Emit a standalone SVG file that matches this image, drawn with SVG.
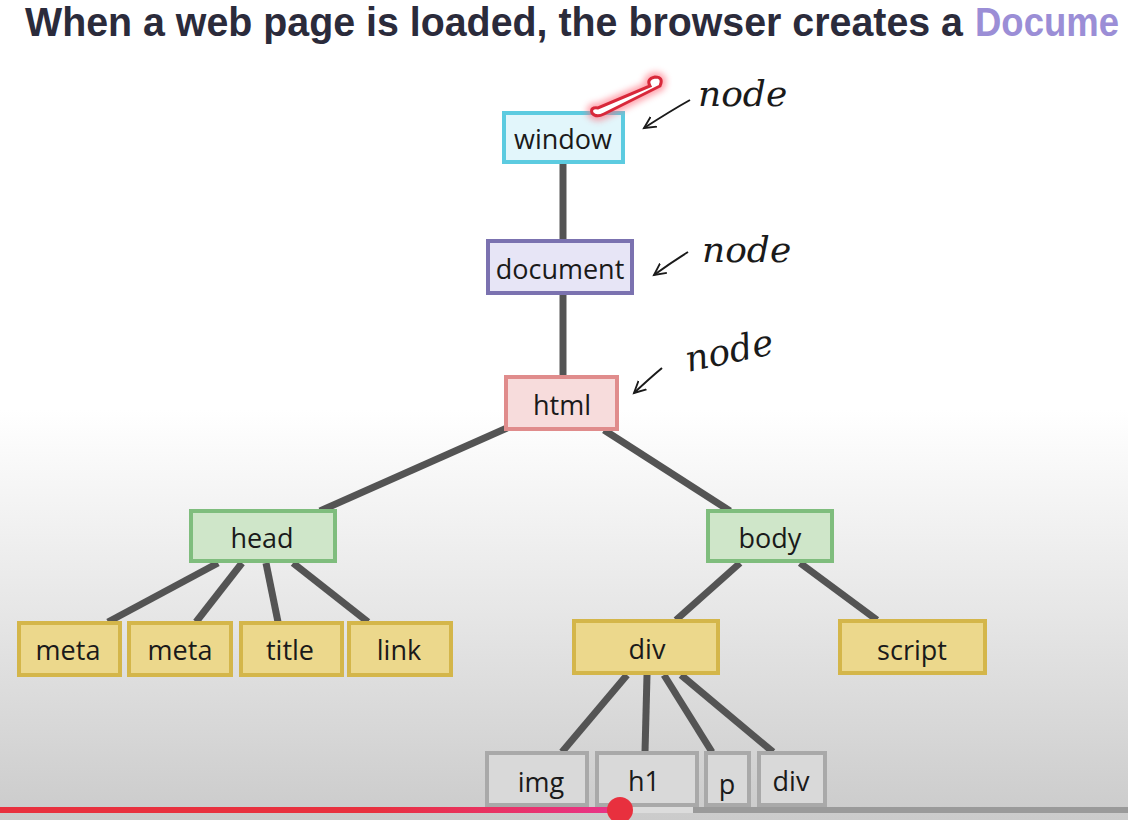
<svg xmlns="http://www.w3.org/2000/svg" width="1128" height="820" viewBox="0 0 1128 820">
<defs>
<linearGradient id="bg" x1="0" y1="0" x2="0" y2="1">
<stop offset="0" stop-color="#ffffff"/>
<stop offset="0.5" stop-color="#ffffff"/>
<stop offset="0.75" stop-color="#e6e6e6"/>
<stop offset="1" stop-color="#cbcbcb"/>
</linearGradient>
<linearGradient id="prog" x1="0" y1="0" x2="1" y2="0">
<stop offset="0" stop-color="#e8303e"/>
<stop offset="0.6" stop-color="#e8303e"/>
<stop offset="1" stop-color="#e8348a"/>
</linearGradient>
<filter id="glow" x="-20%" y="-50%" width="140%" height="200%">
<feGaussianBlur stdDeviation="3"/>
</filter>
<marker id="ah" viewBox="0 0 12 12" refX="10" refY="6" markerWidth="14" markerHeight="14" markerUnits="userSpaceOnUse" orient="auto">
<path d="M0 1 L10 6 L0 11" fill="none" stroke="#1a1a1a" stroke-width="1.6"/>
</marker>
</defs>
<style>
.box rect{stroke-width:4}
.lbl{font-family:"Open Sans","Liberation Sans",sans-serif;font-size:27px;fill:#1a1a1a;text-anchor:middle;dominant-baseline:central}
.cyan rect{fill:#e2f6fb;stroke:#5ccbe0}
.purple rect{fill:#e7e5f6;stroke:#7b72b0}
.pink rect{fill:#f7dcdc;stroke:#e08c8c}
.green rect{fill:#cfe6c9;stroke:#7fbd7d}
.yellow rect{fill:#ecd88c;stroke:#d4b64a}
.grey rect{fill:#d9d9d9;stroke:#a9a9a9}
#connectors line{stroke:#545454;stroke-width:7;stroke-linecap:butt}
.hand{font-family:"DejaVu Serif","Liberation Serif",serif;font-style:italic;font-size:36px;fill:#1a1a1a}
.arr{fill:none;stroke:#1a1a1a;stroke-width:2;marker-end:url(#ah)}
.ttl{font-family:"Liberation Sans",Arial,sans-serif;font-weight:bold;font-size:40px}
</style>
<rect x="0" y="0" width="1128" height="820" fill="url(#bg)"/>
<g id="title">
<text class="ttl" x="25" y="36" textLength="938" lengthAdjust="spacingAndGlyphs" fill="#2b2b3b">When a web page is loaded, the browser creates a</text>
<text class="ttl" x="975" y="36" textLength="144" lengthAdjust="spacingAndGlyphs" fill="#9b8ed6">Docume</text>
</g>
<g id="connectors">
<line x1="563" y1="163" x2="563" y2="240"/>
<line x1="563" y1="294" x2="563" y2="376"/>
<line x1="507" y1="428" x2="320" y2="511"/>
<line x1="604" y1="430" x2="730" y2="511"/>
<line x1="218" y1="563" x2="108" y2="622"/>
<line x1="242" y1="563" x2="196" y2="622"/>
<line x1="266" y1="563" x2="278" y2="622"/>
<line x1="293" y1="563" x2="368" y2="622"/>
<line x1="740" y1="563" x2="676" y2="620"/>
<line x1="800" y1="563" x2="877" y2="620"/>
<line x1="627" y1="675" x2="562" y2="752"/>
<line x1="647" y1="675" x2="645" y2="752"/>
<line x1="664" y1="675" x2="712" y2="752"/>
<line x1="681" y1="675" x2="773" y2="752"/>
</g>
<g id="window" class="box cyan"><rect x="504" y="113" width="119" height="49"/><text class="lbl" x="563" y="138">window</text></g>
<g id="document" class="box purple"><rect x="488" y="241" width="144" height="52"/><text class="lbl" x="560" y="268">document</text></g>
<g id="html" class="box pink"><rect x="506" y="377" width="111" height="52"/><text class="lbl" x="562" y="404">html</text></g>
<g id="head" class="box green"><rect x="191" y="511" width="144" height="50"/><text class="lbl" x="262" y="537">head</text></g>
<g id="body" class="box green"><rect x="708" y="511" width="124" height="50"/><text class="lbl" x="770" y="537">body</text></g>
<g id="meta1" class="box yellow"><rect x="19" y="623" width="101" height="52"/><text class="lbl" x="68" y="649">meta</text></g>
<g id="meta2" class="box yellow"><rect x="129" y="623" width="102" height="52"/><text class="lbl" x="180" y="649">meta</text></g>
<g id="titleNode" class="box yellow"><rect x="241" y="623" width="101" height="52"/><text class="lbl" x="290" y="649">title</text></g>
<g id="link" class="box yellow"><rect x="349" y="623" width="102" height="52"/><text class="lbl" x="399" y="649">link</text></g>
<g id="div" class="box yellow"><rect x="574" y="621" width="144" height="52"/><text class="lbl" x="647" y="648">div</text></g>
<g id="script" class="box yellow"><rect x="840" y="621" width="145" height="52"/><text class="lbl" x="912" y="649">script</text></g>
<g id="img" class="box grey"><rect x="487" y="753" width="100" height="52"/><text class="lbl" x="541" y="781">img</text></g>
<g id="h1" class="box grey"><rect x="597" y="753" width="100" height="52"/><text class="lbl" x="644" y="780">h1</text></g>
<g id="p" class="box grey"><rect x="706" y="753" width="43" height="52"/><text class="lbl" x="727" y="783">p</text></g>
<g id="div2" class="box grey"><rect x="759" y="753" width="66" height="52"/><text class="lbl" x="791" y="780">div</text></g>
<g id="annotations">
<path d="M592 113 Q590 107 598 108 L650 86 Q646 79 655 77 Q664 77 660 86 L604 114 Q596 118 592 113 Z" fill="none" stroke="#ff6b7a" stroke-width="10" filter="url(#glow)" opacity="0.6"/>
<path d="M592 113 Q590 107 598 108 L650 86 Q646 79 655 77 Q664 77 660 86 L604 114 Q596 118 592 113 Z" fill="#ffffff" stroke="#d8283a" stroke-width="3"/>
<path class="arr" d="M690 100 Q672 110 644 128"/>
<text class="hand" x="698" y="106">node</text>
<path class="arr" d="M688 252 Q672 262 654 275"/>
<text class="hand" x="702" y="262">node</text>
<path class="arr" d="M662 368 Q650 378 634 393"/>
<text class="hand" x="688" y="372" transform="rotate(-12 688 372)">node</text>
</g>
<g id="progress">
<rect x="0" y="807" width="1128" height="6" fill="#9a9a9a"/>
<rect x="620" y="807" width="73" height="6" fill="#dcdcdc"/>
<rect x="0" y="807" width="620" height="6" fill="url(#prog)"/>
<circle cx="620" cy="810" r="13" fill="#e8303e"/>
</g>
</svg>
